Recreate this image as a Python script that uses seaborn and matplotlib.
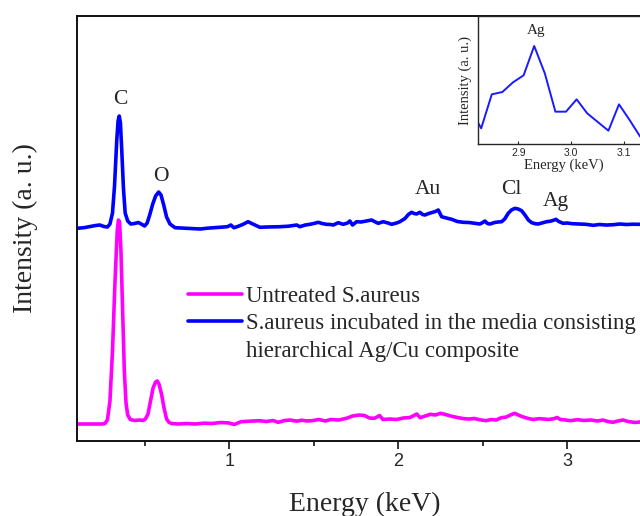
import matplotlib
matplotlib.use("Agg")
import matplotlib.pyplot as plt
from matplotlib.lines import Line2D
import seaborn as sns

# main spectra (energy in keV, intensity in arbitrary units)
untreated_x = [0.10, 0.15, 0.20, 0.25, 0.265, 0.28, 0.295, 0.31, 0.325, 0.338, 0.345, 0.352, 0.36, 0.37,
               0.38, 0.39, 0.40, 0.415, 0.44, 0.47, 0.49, 0.505, 0.52, 0.535, 0.55, 0.565, 0.575, 0.585,
               0.60, 0.615, 0.63, 0.645, 0.66, 0.70, 0.75, 0.80, 0.85, 0.90, 0.95, 1.00, 1.03, 1.07, 1.12,
               1.18, 1.22, 1.26, 1.29, 1.33, 1.36, 1.40, 1.43, 1.46, 1.49, 1.53, 1.57, 1.60, 1.65, 1.70,
               1.73, 1.77, 1.80, 1.83, 1.86, 1.89, 1.91, 1.95, 1.99, 2.03, 2.07, 2.11, 2.13, 2.16, 2.19,
               2.22, 2.25, 2.28, 2.31, 2.35, 2.39, 2.42, 2.45, 2.48, 2.52, 2.55, 2.58, 2.61, 2.64, 2.67,
               2.69, 2.71, 2.74, 2.77, 2.80, 2.83, 2.86, 2.89, 2.92, 2.94, 2.96, 2.99, 3.02, 3.06, 3.10,
               3.14, 3.18, 3.21, 3.24, 3.27, 3.30, 3.33, 3.36, 3.40, 3.43, 3.46, 3.50]
untreated_y = [17, 17, 17, 17, 17.5, 21, 40, 90, 160, 210, 221, 219, 190, 130,
               70, 38, 26, 21.5, 20.5, 21, 20.5, 22, 27, 40, 53, 59, 60, 57,
               47, 33, 22, 18.5, 17.5, 17, 17.5, 17, 17.8, 17.5, 18.5, 18, 16.5, 19.3, 19.8,
               20.3, 19.5, 20.5, 18.7, 20.5, 21, 19.8, 20.8, 20, 20.3, 21.5, 20, 21.5, 21, 23,
               25, 26, 25.5, 23, 22.7, 25.5, 21.5, 22, 21.5, 23, 23.5, 27, 23.3, 25, 26.7,
               26, 27.7, 26.5, 25, 23.5, 22.3, 22, 22.5, 21.3, 20.3, 21.5, 21, 23.3, 24, 26.5,
               27.7, 26, 24, 22.5, 21.5, 22.3, 22, 21.5, 22.3, 23.5, 21.5, 21, 20.3, 21.3, 20.5,
               21, 20, 21, 19.5, 18.7, 20, 21, 19.5, 18.5, 19, 18.5, 19]

treated_x = [0.10, 0.14, 0.18, 0.21, 0.235, 0.26, 0.28, 0.295, 0.31, 0.322, 0.335, 0.343, 0.35, 0.357,
             0.365, 0.375, 0.385, 0.40, 0.418, 0.44, 0.463, 0.48, 0.50, 0.515, 0.53, 0.548, 0.565, 0.583,
             0.597, 0.613, 0.63, 0.65, 0.68, 0.72, 0.75, 0.79, 0.83, 0.87, 0.91, 0.95, 0.99, 1.01, 1.028,
             1.05, 1.08, 1.112, 1.14, 1.182, 1.22, 1.26, 1.30, 1.35, 1.40, 1.418, 1.45, 1.478, 1.50, 1.527,
             1.55, 1.576, 1.60, 1.616, 1.645, 1.675, 1.70, 1.714, 1.73, 1.754, 1.78, 1.81, 1.843, 1.865,
             1.882, 1.911, 1.94, 1.961, 1.99, 2.01, 2.04, 2.06, 2.079, 2.095, 2.109, 2.128, 2.145, 2.158,
             2.18, 2.20, 2.22, 2.237, 2.257, 2.285, 2.316, 2.35, 2.385, 2.42, 2.45, 2.483, 2.50, 2.513,
             2.528, 2.543, 2.57, 2.59, 2.612, 2.63, 2.651, 2.67, 2.69, 2.71, 2.73, 2.75, 2.77, 2.79, 2.81,
             2.828, 2.85, 2.878, 2.90, 2.92, 2.933, 2.95, 2.976, 3.00, 3.03, 3.075, 3.11, 3.154, 3.19,
             3.23, 3.272, 3.31, 3.35, 3.39, 3.43, 3.47, 3.50]
treated_y = [212.7, 213.3, 214.5, 215.5, 216, 214.5, 214, 217, 228, 255, 300, 320, 325, 318,
             290, 252, 228, 220, 217, 217.5, 218.5, 217, 215, 218, 226, 237, 245, 249,
             246, 236, 224, 217, 213.3, 213, 212.7, 212.3, 212, 212.8, 213.3, 213.7, 214.3, 216, 213.3,
             214.5, 216.5, 219.3, 217, 213.7, 214, 214.2, 214.3, 214.8, 216, 214.3, 216, 216.7, 217.5, 218.7,
             217.5, 216.7, 216.5, 216, 218.3, 216.7, 218, 220, 216, 219.3, 219, 220, 221, 219,
             217.7, 219.3, 218, 216.7, 218, 219.3, 222.5, 226.5, 228.7, 227.5, 227, 228.7, 226.5, 226,
             227.5, 228.5, 229.5, 231, 224.3, 223, 221.7, 219.5, 218.7, 218.5, 217.8, 217, 218.5, 220,
             217.5, 217, 218.5, 219, 219.3, 222, 227.7, 231, 232.7, 232, 230.3, 226, 221, 218.3, 217.3,
             217, 218, 219.3, 219.8, 220.8, 221.7, 219.5, 217.7, 218, 217.3, 217, 216.7, 215.7, 216.5,
             216, 216.3, 217, 216.5, 216.8, 216.7, 216.5, 216.7]

# inset: Ag region of the treated sample
inset_x = [2.81, 2.83, 2.85, 2.87, 2.89, 2.91, 2.93, 2.95, 2.97, 2.99, 3.01, 3.03, 3.05, 3.07, 3.09, 3.11, 3.13]
inset_y = [104, 47, 149, 156, 185, 206, 294, 212, 97, 97, 134, 92, 66, 40, 119, 72, 22]

# peak labels
peak_names = ["C", "O", "Au", "Cl", "Ag"]
peak_x = [0.357, 0.596, 2.174, 2.671, 2.933]
peak_y = [341.7, 264.3, 252, 252, 239.3]

legend_labels = ["Untreated S.aureus",
                 "S.aureus incubated in the media consisting",
                 "hierarchical Ag/Cu composite"]

sns.set_style("ticks")
plt.rcParams["font.family"] = ["Liberation Serif", "DejaVu Serif"]

fig = plt.figure(figsize=(6.4, 5.16), dpi=100)
ax = fig.add_axes([0.1203, 0.14535, 0.9245, 0.8236])

sns.lineplot(x=untreated_x, y=untreated_y, ax=ax, color="#ff00ff", lw=2.6, sort=False, estimator=None)
sns.lineplot(x=treated_x, y=treated_y, ax=ax, color="#0000ff", lw=2.6, sort=False, estimator=None)

ax.set_xlim(0.1, 3.6)
ax.set_ylim(0, 425)
ax.set_xticks([1, 2, 3])
ax.set_xticks([0.5, 1.5, 2.5, 3.5], minor=True)
ax.set_yticks([])
ax.tick_params(axis="x", which="major", direction="out", length=6, width=1.3, pad=3,
               labelsize=13, labelfontfamily="Liberation Sans")
ax.tick_params(axis="x", which="minor", direction="out", length=3.5, width=1.3)
for side in ["left", "bottom", "top"]:
    ax.spines[side].set_linewidth(1.4)
    ax.spines[side].set_color("#111111")
ax.spines["right"].set_visible(False)

for name, px, py in zip(peak_names, peak_x, peak_y):
    ax.text(px, py, name, ha="center", va="center", fontsize=15.5)

fig.text(365 / 640, 1 - 504 / 516, "Energy (keV)", ha="center", va="center", fontsize=20)
fig.text(25 / 640, 1 - 228 / 516, "Intensity (a. u.)", ha="center", va="center",
         rotation=90, fontsize=20)

handles = [Line2D([], [], color="#ff00ff", lw=2.6),
           Line2D([], [], color="#0000ff", lw=2.6),
           Line2D([], [], color="none", lw=0)]
fig.legend(handles, legend_labels, loc="upper left", bbox_to_anchor=(188 / 640, 1 - 286 / 516),
           frameon=False, fontsize=16.5, handlelength=2.35, handletextpad=0.2,
           labelspacing=0.27, borderpad=0, borderaxespad=0)

# inset
axin = fig.add_axes([0.7464, 0.7209, 0.2705, 0.2481])
axin.set_facecolor("white")
sns.lineplot(x=inset_x, y=inset_y, ax=axin, color="#1a1aff", lw=1.4, sort=False, estimator=None)
axin.set_xlim(2.8234, 3.15)
axin.set_ylim(0, 384)
axin.set_xticks([2.9, 3.0, 3.1])
axin.set_yticks([])
axin.tick_params(axis="x", direction="in", length=2, width=0.8, pad=3,
                 labelsize=7.5, labelfontfamily="Liberation Sans")
for side in ["left", "bottom", "top"]:
    axin.spines[side].set_linewidth(1.0)
axin.spines["right"].set_visible(False)
axin.set_xlabel("Energy (keV)", fontsize=10.5, labelpad=0)
axin.set_ylabel("Intensity (a. u.)", fontsize=10.5, labelpad=4)
axin.text(2.933, 340, "Ag", ha="center", va="center", fontsize=11)

fig.savefig("out.png", dpi=100)
